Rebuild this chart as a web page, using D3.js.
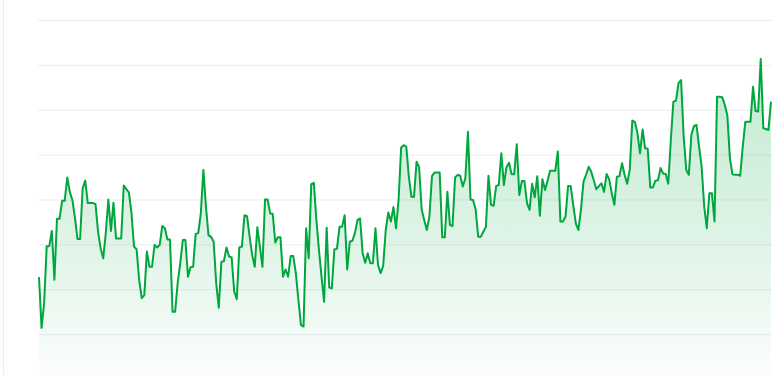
<!DOCTYPE html>
<html>
<head>
<meta charset="utf-8">
<script src="https://cdn.jsdelivr.net/npm/d3@7"></script>
<style>
  html, body { margin: 0; padding: 0; background: #fff; overflow: hidden; }
  svg { display: block; }
</style>
</head>
<body>
<svg id="chart" width="772" height="375"></svg>
<script>
// Series values
const values = [
  22.7, 11.4, 16.9, 29.6, 29.6, 33.0, 22.1, 35.7, 35.7, 39.7,
  39.7, 44.9, 41.7, 39.9, 35.9, 31.2, 31.2, 42.5, 44.2, 39.2,
  39.2, 39.2, 39.0, 32.8, 29.1, 26.9, 32.5, 40.0, 33.0, 39.3,
  31.3, 31.3, 31.3, 43.1, 42.3, 41.6, 37.0, 29.5, 28.9, 22.1,
  18.0, 18.7, 28.4, 25.0, 25.0, 29.9, 29.3, 29.9, 34.1, 33.6,
  31.1, 31.1, 15.0, 15.0, 21.4, 25.8, 31.0, 31.0, 22.8, 24.9,
  25.0, 32.3, 32.5, 36.9, 46.6, 38.4, 32.0, 31.7, 30.6, 21.3,
  15.9, 26.1, 26.3, 29.3, 27.3, 27.1, 19.5, 17.8, 29.3, 29.5,
  36.5, 36.3, 31.7, 27.6, 25.0, 33.8, 29.5, 25.0, 40.0, 40.0,
  36.9, 36.8, 30.4, 31.6, 31.6, 22.8, 24.4, 22.8, 27.4, 27.4,
  23.6, 17.6, 12.0, 11.7, 33.6, 26.9, 43.4, 43.7, 35.4, 28.7,
  22.8, 17.2, 33.7, 20.4, 20.2, 28.9, 29.0, 33.9, 33.9, 36.5,
  24.4, 30.6, 30.8, 32.5, 35.4, 35.8, 28.1, 25.9, 28.0, 25.8,
  25.8, 33.6, 25.4, 23.6, 25.2, 33.2, 37.1, 35.1, 38.3, 33.6,
  39.9, 51.6, 52.1, 51.8, 45.1, 40.6, 40.6, 48.4, 47.2, 37.7,
  35.4, 33.2, 36.2, 45.2, 46.0, 46.0, 46.0, 31.6, 31.6, 41.7,
  34.3, 34.1, 44.9, 45.5, 45.3, 42.9, 44.7, 55.1, 40.0, 39.9,
  37.8, 31.7, 31.7, 32.8, 33.9, 45.3, 38.8, 38.6, 43.0, 43.2,
  50.3, 43.2, 47.2, 48.2, 45.6, 45.6, 52.3, 41.0, 44.1, 44.1,
  39.2, 37.7, 43.5, 40.5, 45.2, 36.4, 44.5, 42.1, 44.2, 46.4,
  46.4, 46.4, 50.7, 35.1, 35.1, 36.2, 43.0, 43.0, 38.8, 34.7,
  33.2, 37.7, 44.0, 45.5, 47.3, 46.2, 44.3, 42.3, 43.0, 43.6,
  41.7, 45.7, 44.5, 41.4, 38.8, 45.1, 45.2, 48.1, 45.5, 43.5,
  46.6, 57.6, 57.3, 54.8, 50.3, 55.6, 51.4, 51.3, 42.7, 42.7,
  44.2, 44.3, 47.0, 45.8, 45.7, 43.5, 53.3, 61.8, 62.0, 66.0,
  66.6, 54.0, 46.6, 45.5, 54.4, 56.4, 56.6, 51.8, 47.3, 38.4,
  33.6, 41.4, 41.4, 35.1, 62.9, 62.9, 62.8, 61.1, 58.8, 49.2,
  45.6, 45.5, 45.5, 45.3, 51.8, 57.3, 57.3, 57.3, 65.1, 59.7,
  59.6, 71.3, 55.9, 55.7, 55.5, 61.8
];
// Categories: one per point (index)
const categories = values.map((_, i) => i);
// Gridline tick values
const gridTicks = [0, 10, 20, 30, 40, 50, 60, 70, 80];

const svg = d3.select("#chart");
const margin = { left: 39, right: 1, top: 20 };
const plotLeft = 38, plotRight = 772;

const x = d3.scaleLinear()
  .domain([0, categories.length - 1])
  .range([margin.left, 772 - margin.right]);
const y = d3.scaleLinear()
  .domain([0, 80])
  .range([379, margin.top]);

// card border at left
svg.append("line")
  .attr("x1", 3.5).attr("x2", 3.5)
  .attr("y1", 0).attr("y2", 375)
  .attr("stroke", "#ececec").attr("stroke-width", 1);

// gradient
const defs = svg.append("defs");
const grad = defs.append("linearGradient")
  .attr("id", "areaGrad")
  .attr("gradientUnits", "userSpaceOnUse")
  .attr("x1", 0).attr("x2", 0)
  .attr("y1", y(d3.max(values))).attr("y2", y(0));
grad.append("stop").attr("offset", "0%").attr("stop-color", "#00a63e").attr("stop-opacity", 0.24);
grad.append("stop").attr("offset", "60%").attr("stop-color", "#00a63e").attr("stop-opacity", 0.12);
grad.append("stop").attr("offset", "100%").attr("stop-color", "#00a63e").attr("stop-opacity", 0.01);

// gridlines via axis
const gridAxis = d3.axisLeft(y)
  .tickValues(gridTicks)
  .tickSize(-(plotRight - plotLeft))
  .tickFormat("");
const g = svg.append("g")
  .attr("transform", `translate(${plotLeft},0)`)
  .call(gridAxis);
g.select(".domain").remove();
g.selectAll(".tick line").attr("stroke", "#ebedf0").attr("stroke-width", 1);

// area
const area = d3.area()
  .x((d, i) => x(categories[i]))
  .y0(y(0))
  .y1(d => y(d));
svg.append("path")
  .datum(values)
  .attr("d", area)
  .attr("fill", "url(#areaGrad)");

// line
const line = d3.line()
  .x((d, i) => x(categories[i]))
  .y(d => y(d));
svg.append("path")
  .datum(values)
  .attr("d", line)
  .attr("fill", "none")
  .attr("stroke", "#00a63e")
  .attr("stroke-width", 2)
  .attr("stroke-linejoin", "round");
</script>
</body>
</html>
